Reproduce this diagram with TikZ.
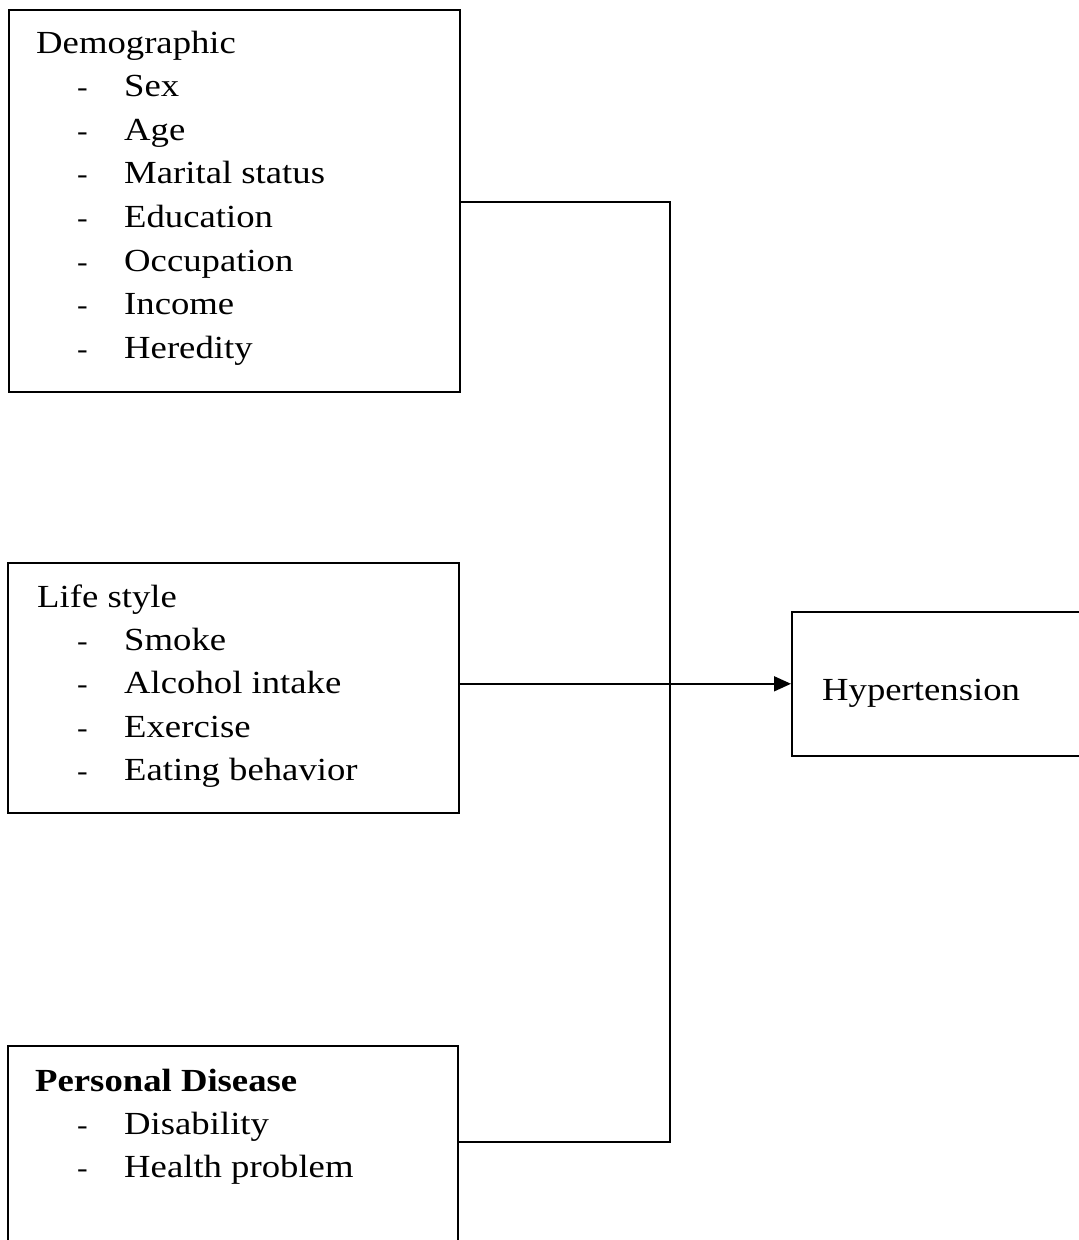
\documentclass[tikz,border=0pt]{standalone}
\usepackage{fontspec}
\setmainfont[FakeStretch=1.14]{Liberation Serif}
\usetikzlibrary{arrows.meta}
\begin{document}
\begin{tikzpicture}[x=1pt,y=-1pt,
  boxnode/.style={draw=black,line width=1.6pt,rectangle,inner sep=0pt,anchor=north west},
  txt/.style={inner sep=0pt,anchor=base west,font=\fontsize{32.2}{40}\selectfont},
  dsh/.style={inner sep=0pt,anchor=base west,font=\fontsize{28}{40}\selectfont},
  conn/.style={line width=1.6pt,line join=miter}]
\useasboundingbox (0,0) rectangle (1079,1240);
\fill[white] (0,0) rectangle (1079,1240);
% boxes
\node[boxnode,minimum width=451pt,minimum height=382pt] (box1) at (8,9) {};
\node[boxnode,minimum width=451pt,minimum height=250pt] (box2) at (7,562) {};
\node[boxnode,minimum width=450pt,minimum height=230pt] (box3) at (7,1045) {};
\node[boxnode,minimum width=320pt,minimum height=144pt] (ht) at (791,611) {};
% Demographic text
\node[txt] (t1) at (36,53) {Demographic};
\foreach \i/\s in {1/Sex,2/Age,3/Marital status,4/Education,5/Occupation,6/Income,7/Heredity}{
  \node[dsh] (d1\i) at (77,53+43.6*\i) {-};
  \node[txt] (i1\i) at (124,53+43.6*\i) {\s};
}
% Life style text
\node[txt] (t2) at (37,607) {Life style};
\foreach \i/\s in {1/Smoke,2/Alcohol intake,3/Exercise,4/Eating behavior}{
  \node[dsh] (d2\i) at (77,607+43.4*\i) {-};
  \node[txt] (i2\i) at (124,607+43.4*\i) {\s};
}
% Personal disease text
\node[txt,font=\fontsize{32.2}{40}\selectfont\bfseries] (t3) at (35,1091) {Personal Disease};
\foreach \i/\s in {1/Disability,2/Health problem}{
  \node[dsh] (d3\i) at (77,1091+43.2*\i) {-};
  \node[txt] (i3\i) at (124,1091+43.2*\i) {\s};
}
% Hypertension text
\node[txt] (t4) at (822,700) {Hypertension};
% connectors
\coordinate (j1) at (670,202);
\coordinate (j3) at (670,1142);
\draw[conn] (box1.east |- j1) -- (j1) -- (j3) -- (box3.east |- j3);
\draw[conn,-{Triangle[length=17pt,width=15pt]}] (box2.east |- ht.west) -- (ht.west);
\end{tikzpicture}
\end{document}
